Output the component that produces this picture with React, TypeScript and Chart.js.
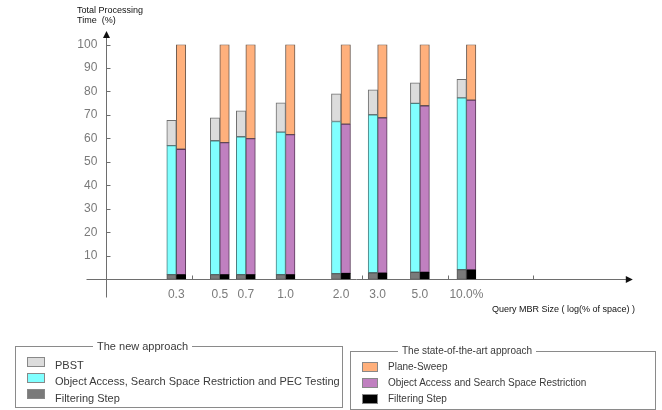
import React, { useEffect, useRef } from "react";
import { Chart, registerables } from "chart.js";

Chart.register(...registerables);

// ---- data ----
const categories = ["0.3", "0.5", "0.7", "1.0", "2.0", "3.0", "5.0", "10.0%"];
// position of each query size on the hand-drawn (log-like) x axis, in axis units
const axisPosition = [0.82, 1.33, 1.635, 2.1, 2.75, 3.18, 3.675, 4.22];

// The new approach (segments, bottom to top)
const newFiltering = [2.0, 2.0, 2.0, 2.0, 2.4, 2.8, 3.0, 4.1];
const newAccess = [54.9, 57.0, 58.7, 60.7, 64.8, 67.3, 71.9, 73.2];
const newPBST = [10.8, 9.8, 11.1, 12.5, 11.8, 10.6, 8.8, 7.9];

// The state-of-the-art approach (segments, bottom to top)
const oldFiltering = [2.0, 2.0, 2.0, 2.0, 2.5, 2.7, 3.0, 4.0];
const oldAccess = [53.4, 56.2, 57.9, 59.6, 63.6, 66.1, 70.9, 72.3];
const oldSweep = [44.6, 41.8, 40.1, 38.4, 33.9, 31.2, 26.1, 23.7];

const yTicks = [10, 20, 30, 40, 50, 60, 70, 80, 90, 100];
const xAxisMarks = [1, 2, 3, 4, 5];

const FONT = "'Liberation Sans', Arial, sans-serif";

const pts = (vals: number[]) => axisPosition.map((x, i) => ({ x, y: vals[i] }));

const axesPlugin = {
  id: "handAxes",
  beforeDatasetsDraw(chart: any) {
    const { ctx, scales } = chart;
    const xs = scales.x;
    const ys = scales.y;
    const ox = Math.round(xs.getPixelForValue(0)) + 0.5;
    const oy = Math.round(ys.getPixelForValue(0)) + 0.5;
    const top = ys.getPixelForValue(100);
    ctx.save();
    ctx.strokeStyle = "#6e6e6e";
    ctx.fillStyle = "#111";
    ctx.lineWidth = 1;
    ctx.beginPath();
    // y axis
    ctx.moveTo(ox, oy + 18);
    ctx.lineTo(ox, top - 7);
    // x axis
    ctx.moveTo(ox - 20, oy);
    ctx.lineTo(xs.getPixelForValue(6) + 8, oy);
    // y ticks
    yTicks.forEach((v) => {
      const py = Math.round(ys.getPixelForValue(v)) + 0.5;
      ctx.moveTo(ox, py);
      ctx.lineTo(ox + 4, py);
    });
    // x marks
    xAxisMarks.forEach((v) => {
      const px = Math.round(xs.getPixelForValue(v)) + 0.5;
      ctx.moveTo(px, oy);
      ctx.lineTo(px, oy - 4);
    });
    ctx.stroke();
    // arrows
    ctx.beginPath();
    ctx.moveTo(ox, top - 13.5);
    ctx.lineTo(ox - 3.5, top - 6.5);
    ctx.lineTo(ox + 3.5, top - 6.5);
    ctx.closePath();
    ctx.fill();
    const xe = xs.getPixelForValue(6) + 14.5;
    ctx.beginPath();
    ctx.moveTo(xe, oy);
    ctx.lineTo(xe - 7, oy - 3.5);
    ctx.lineTo(xe - 7, oy + 3.5);
    ctx.closePath();
    ctx.fill();
    ctx.restore();
  },
};

function ChartCanvas() {
  const ref = useRef<HTMLCanvasElement | null>(null);
  useEffect(() => {
    if (!ref.current) return;
    const mk = (label: string, vals: number[], stack: string, bg: string, bd: string) => ({
      label,
      data: pts(vals),
      stack,
      backgroundColor: bg,
      borderColor: bd,
      borderWidth: 1,
      borderSkipped: false as const,
      barThickness: 9.5,
    });
    const chart = new Chart(ref.current, {
      type: "bar",
      data: {
        datasets: [
          mk("Filtering Step", newFiltering, "new", "#7a7a7a", "#555555"),
          mk("Object Access, Search Space Restriction and PEC Testing", newAccess, "new", "#80ffff", "#4d7f7f"),
          mk("PBST", newPBST, "new", "#dcdcdc", "#707070"),
          mk("Filtering Step", oldFiltering, "old", "#000000", "#000000"),
          mk("Object Access and Search Space Restriction", oldAccess, "old", "#c080c0", "#5a3a5a"),
          mk("Plane-Sweep", oldSweep, "old", "#ffb07c", "#6a5a50"),
        ] as any,
      },
      options: {
        animation: false,
        responsive: false,
        maintainAspectRatio: false,
        layout: { padding: { top: 44.5, right: 43.7, left: 0, bottom: 0 } },
        plugins: { legend: { display: false }, tooltip: { enabled: false } },
        scales: {
          x: {
            type: "linear",
            min: 0,
            max: 6,
            offset: false,
            grid: { display: false, drawTicks: false },
            border: { display: false },
            afterBuildTicks: (s: any) => {
              s.ticks = axisPosition.map((v) => ({ value: v }));
            },
            afterFit: (s: any) => {
              s.height = 410 - 279.3;
            },
            ticks: {
              autoSkip: false,
              maxRotation: 0,
              minRotation: 0,
              padding: 8,
              color: "#7a7a7a",
              font: { family: FONT, size: 12 },
              callback: (_v: any, i: number) => categories[i],
            },
          },
          y: {
            min: 0,
            max: 100,
            stacked: true,
            grid: { display: false, drawTicks: false },
            border: { display: false },
            afterFit: (s: any) => {
              s.width = 106.3;
            },
            ticks: {
              stepSize: 10,
              padding: 9,
              color: "#7a7a7a",
              font: { family: FONT, size: 12 },
              callback: (v: any) => (v === 0 ? "" : String(v)),
            },
          },
        },
      } as any,
      plugins: [axesPlugin],
    });
    return () => chart.destroy();
  }, []);
  return (
    <canvas
      ref={ref}
      width={662}
      height={410}
      style={{ position: "absolute", left: 0, top: 0, width: 662, height: 410 }}
    />
  );
}

const abs = (s: React.CSSProperties): React.CSSProperties => ({
  position: "absolute",
  whiteSpace: "pre",
  fontFamily: FONT,
  ...s,
});

const newLegend = [
  { label: "PBST", color: "#dcdcdc" },
  { label: "Object Access, Search Space Restriction and PEC Testing", color: "#80ffff" },
  { label: "Filtering Step", color: "#7a7a7a" },
];
const oldLegend = [
  { label: "Plane-Sweep", color: "#ffb07c" },
  { label: "Object Access and Search Space Restriction", color: "#c080c0" },
  { label: "Filtering Step", color: "#000000" },
];

export default function App() {
  return (
    <div style={{ position: "absolute", left: 0, top: 0, width: 662, height: 410, background: "#fff", overflow: "hidden" }}>
      <ChartCanvas />
      <div style={abs({ left: 77, top: 5, fontSize: 9, lineHeight: "10px", color: "#111" })}>
        {"Total Processing\nTime  (%)"}
      </div>
      <div style={abs({ left: 492, top: 304, fontSize: 9, lineHeight: "10px", color: "#111" })}>
        {"Query MBR Size ( log(% of space) )"}
      </div>

      {/* left legend box */}
      <div style={{ position: "absolute", left: 15, top: 346, width: 328, height: 62, border: "1px solid #8a8a8a", boxSizing: "border-box" }} />
      <div style={abs({ left: 93, top: 339, fontSize: 11, lineHeight: "14px", padding: "0 4px", background: "#fff", color: "#3a3a3a" })}>
        The new approach
      </div>
      {newLegend.map((it, i) => (
        <React.Fragment key={"n" + i}>
          <div style={{ position: "absolute", left: 27, top: 357 + i * 16, width: 18, height: 10, background: it.color, border: "1px solid #888", boxSizing: "border-box" }} />
          <div style={abs({ left: 55, top: 358.5 + i * 16.5, fontSize: 11, lineHeight: "12px", color: "#3a3a3a" })}>{it.label}</div>
        </React.Fragment>
      ))}

      {/* right legend box */}
      <div style={{ position: "absolute", left: 350, top: 351, width: 306, height: 59, border: "1px solid #8a8a8a", boxSizing: "border-box" }} />
      <div style={abs({ left: 398, top: 344, fontSize: 10, lineHeight: "14px", padding: "0 4px", background: "#fff", color: "#3a3a3a" })}>
        The state-of-the-art approach
      </div>
      {oldLegend.map((it, i) => (
        <React.Fragment key={"o" + i}>
          <div style={{ position: "absolute", left: 362, top: 362 + i * 16, width: 16, height: 10, background: it.color, border: "1px solid #888", boxSizing: "border-box" }} />
          <div style={abs({ left: 388, top: 361.3 + i * 16, fontSize: 10, lineHeight: "12px", color: "#3a3a3a" })}>{it.label}</div>
        </React.Fragment>
      ))}
    </div>
  );
}
